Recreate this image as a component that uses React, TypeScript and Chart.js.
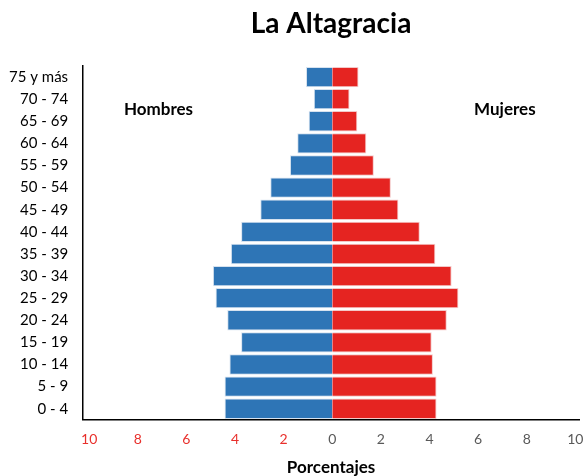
import React, { useEffect, useRef } from "react";
import { Chart, registerables } from "chart.js";

Chart.register(...registerables);

const ageGroups = [
  "75 y más", "70 - 74", "65 - 69", "60 - 64", "55 - 59", "50 - 54", "45 - 49", "40 - 44",
  "35 - 39", "30 - 34", "25 - 29", "20 - 24", "15 - 19", "10 - 14", "5 - 9", "0 - 4",
];
const hombres = [1.08, 0.76, 0.97, 1.44, 1.74, 2.55, 2.96, 3.75, 4.17, 4.91, 4.8, 4.32, 3.75, 4.23, 4.43, 4.43];
const mujeres = [1.08, 0.71, 1.03, 1.4, 1.71, 2.41, 2.72, 3.6, 4.24, 4.91, 5.19, 4.71, 4.09, 4.14, 4.29, 4.29];
const xTicks = [-10, -8, -6, -4, -2, 0, 2, 4, 6, 8, 10];

const FONT = "Lato, 'Open Sans', sans-serif";

export default function App() {
  const ref = useRef<HTMLCanvasElement | null>(null);
  useEffect(() => {
    document.body.style.margin = "0";
    const ctx = ref.current!;
    const extras = {
      id: "extras",
      afterDatasetsDraw(chart: any) {
        const c = chart.ctx;
        const xs = chart.scales.x;
        const ys = chart.scales.y;
        const area = chart.chartArea;
        c.save();
        c.fillStyle = "#000";
        c.textAlign = "center";
        c.textBaseline = "middle";
        c.font = `bold 28px ${FONT}`;
        c.fillText("La Altagracia", (area.left + area.right) / 2, 24);
        c.font = `bold 17px ${FONT}`;
        const y = ys.getPixelForValue(1.45);
        c.fillText("Hombres", xs.getPixelForValue(-7.15), y);
        c.fillText("Mujeres", xs.getPixelForValue(7.1), y);
        c.restore();
      },
    };
    const chart = new Chart(ctx, {
      type: "bar",
      data: {
        labels: ageGroups,
        datasets: [
          {
            label: "Hombres",
            data: hombres.map((v) => -v),
            backgroundColor: "#2e75b6",
            borderColor: "#d6e2ef",
            borderWidth: 1,
            barPercentage: 0.92,
            categoryPercentage: 1,
          },
          {
            label: "Mujeres",
            data: mujeres,
            backgroundColor: "#e52421",
            borderColor: "#f3c8c8",
            borderWidth: 1,
            barPercentage: 0.92,
            categoryPercentage: 1,
          },
        ],
      },
      options: {
        indexAxis: "y",
        animation: false,
        responsive: true,
        maintainAspectRatio: false,
        layout: { padding: { left: 2, right: 7, top: 66, bottom: -2 } },
        plugins: {
          legend: { display: false },
          tooltip: { enabled: false },
          title: { display: false },
        },
        scales: {
          x: {
            stacked: true,
            min: -10.25,
            max: 10.15,
            afterBuildTicks: (axis: any) => {
              axis.ticks = xTicks.map((v) => ({ value: v }));
            },
            afterFit: (s: any) => {
              s.paddingRight = 0;
              s.paddingLeft = 0;
            },
            grid: { display: false },
            border: { display: true, color: "#000", width: 1.5 },
            ticks: {
              autoSkip: false,
              maxRotation: 0,
              padding: 3,
              font: { family: FONT, size: 14 },
              color: (c: any) => (c.tick && c.tick.value < 0 ? "#e8302c" : "#595959"),
              callback: (v: any) => String(Math.abs(Number(v))),
            },
            title: {
              display: true,
              text: "Porcentajes",
              font: { family: FONT, size: 17, weight: "bold" },
              color: "#000",
              padding: { top: 7, bottom: 0 },
            },
          },
          y: {
            stacked: true,
            grid: { display: false },
            border: { display: true, color: "#000", width: 1.5 },
            ticks: {
              padding: 7,
              autoSkip: false,
              font: { family: FONT, size: 15 },
              color: "#000",
            },
          },
        },
      },
      plugins: [extras],
    } as any);
    return () => chart.destroy();
  }, []);
  return (
    <div style={{ position: "relative", width: 586, height: 476 }}>
      <canvas ref={ref} />
    </div>
  );
}
